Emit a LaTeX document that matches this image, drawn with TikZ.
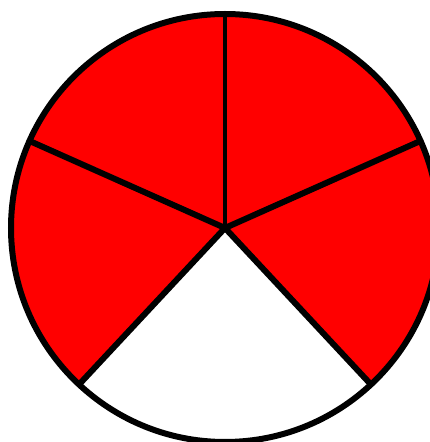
\documentclass[tikz,border=0pt]{standalone}
\usepackage{tikz}
\usetikzlibrary{calc}

\begin{document}
\begin{tikzpicture}[x=1pt,y=1pt]
	\useasboundingbox (0,0) rectangle (430,442);
	\clip (0,0) rectangle (430,442);
	\coordinate (c) at (225,214);
	\foreach \a/\n in {90/top,156/ul,24/ur,227/ll,313/lr}
		\coordinate (p\n) at ($(c)+(\a:214pt)$);
	\fill[red] (c) circle (214pt);
	\fill[white] (c) -- (pll) arc (227:313:214pt) -- cycle;
	\draw[line width=6pt] (c) circle (214pt);
	\draw[line width=4pt] (c) -- (ptop);
	\foreach \n in {ul,ur,ll,lr}
		\draw[line width=6pt,line cap=round] (c) -- (p\n);
\end{tikzpicture}
\end{document}
